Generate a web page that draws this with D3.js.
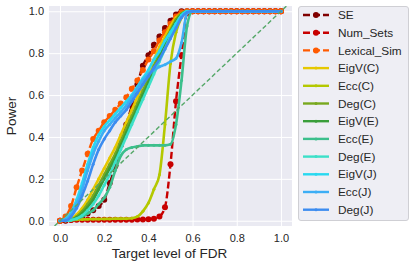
<!DOCTYPE html>
<html>
<head>
<meta charset="utf-8">
<script src="https://cdn.jsdelivr.net/npm/d3@7"></script>
<style>
  body { margin: 0; background: #fff; }
  svg { display: block; font-family: "Liberation Sans", Arial, sans-serif; }
</style>
</head>
<body>
<svg id="chart"></svg>
<script>
const width = 415;
const height = 268;
const margin = {top: 6, right: 123, bottom: 42, left: 49};

// target FDR levels (x)
const fdrLevels = [0, 0.025, 0.05, 0.075, 0.1, 0.125, 0.15, 0.175, 0.2, 0.225,
    0.25, 0.275, 0.3, 0.325, 0.35, 0.375, 0.4, 0.425, 0.45, 0.475,
    0.5, 0.525, 0.55, 0.575, 0.6, 0.625, 0.65, 0.675, 0.7, 0.725,
    0.75, 0.775, 0.8, 0.825, 0.85, 0.875, 0.9, 0.925, 0.95, 0.975, 1.0];

const names = ['SE', 'Num_Sets', 'Lexical_Sim', 'EigV(C)', 'Ecc(C)', 'Deg(C)',
    'EigV(E)', 'Ecc(E)', 'Deg(E)', 'EigV(J)', 'Ecc(J)', 'Deg(J)'];

const colors = ['#800000', '#c80000', '#ff5a00', '#e6c800', '#b4c800', '#78a81e',
    '#3a9e3a', '#3cbf8c', '#3ce0c8', '#28d8f0', '#3caef5', '#3c8cf0'];

const powerSE = [0, 0, 0.005, 0.01, 0.02, 0.035, 0.05, 0.07, 0.1, 0.18, 0.26, 0.36, 0.46, 0.55, 0.65, 0.74, 0.79, 0.84, 0.88, 0.92, 0.955, 0.985, 1, 1, 1,
    1, 1, 1, 1, 1, 1, 1, 1, 1, 1, 1, 1, 1, 1, 1, 1];
const powerNumSets = [0, 0.003, 0.004, 0.005, 0.005, 0.005, 0.005, 0.005, 0.005, 0.005, 0.005, 0.005, 0.005, 0.005, 0.006, 0.006, 0.007, 0.01, 0.02, 0.065, 0.27, 0.57, 0.79, 0.99, 1,
    1, 1, 1, 1, 1, 1, 1, 1, 1, 1, 1, 1, 1, 1, 1, 1];
const powerLexical = [0, 0.02, 0.07, 0.16, 0.24, 0.32, 0.39, 0.43, 0.47, 0.5, 0.53, 0.56, 0.59, 0.63, 0.67, 0.72, 0.77, 0.81, 0.86, 0.9, 0.94, 0.975, 0.995, 1, 1,
    1, 1, 1, 1, 1, 1, 1, 1, 1, 1, 1, 1, 1, 1, 1, 1];
const powerEigVC = [0, 0, 0.01, 0.03, 0.06, 0.1, 0.15, 0.2, 0.25, 0.3, 0.35, 0.41, 0.47, 0.53, 0.59, 0.65, 0.71, 0.77, 0.83, 0.88, 0.93, 0.97, 0.99, 1, 1,
    1, 1, 1, 1, 1, 1, 1, 1, 1, 1, 1, 1, 1, 1, 1, 1];
const powerEccC = [0, 0, 0.003, 0.005, 0.006, 0.007, 0.008, 0.008, 0.009, 0.009, 0.01, 0.01, 0.01, 0.012, 0.02, 0.045, 0.085, 0.15, 0.22, 0.46, 0.75, 0.9, 0.97, 1, 1,
    1, 1, 1, 1, 1, 1, 1, 1, 1, 1, 1, 1, 1, 1, 1, 1];
const powerDegC = [0, 0, 0.005, 0.02, 0.045, 0.08, 0.12, 0.17, 0.22, 0.27, 0.32, 0.38, 0.44, 0.5, 0.56, 0.62, 0.68, 0.74, 0.8, 0.86, 0.91, 0.96, 0.99, 1, 1,
    1, 1, 1, 1, 1, 1, 1, 1, 1, 1, 1, 1, 1, 1, 1, 1];
const powerEigVE = [0, 0, 0.005, 0.015, 0.035, 0.065, 0.1, 0.15, 0.2, 0.25, 0.3, 0.36, 0.42, 0.48, 0.54, 0.6, 0.66, 0.72, 0.78, 0.84, 0.9, 0.95, 0.985, 1, 1,
    1, 1, 1, 1, 1, 1, 1, 1, 1, 1, 1, 1, 1, 1, 1, 1];
const powerEccE = [0, 0, 0.005, 0.01, 0.02, 0.035, 0.05, 0.08, 0.11, 0.16, 0.24, 0.31, 0.34, 0.35, 0.355, 0.36, 0.36, 0.36, 0.36, 0.36, 0.365, 0.46, 0.67, 0.93, 1,
    1, 1, 1, 1, 1, 1, 1, 1, 1, 1, 1, 1, 1, 1, 1, 1];
const powerDegE = [0, 0, 0.003, 0.01, 0.025, 0.05, 0.08, 0.12, 0.17, 0.22, 0.28, 0.34, 0.4, 0.46, 0.52, 0.58, 0.64, 0.7, 0.76, 0.82, 0.88, 0.94, 0.98, 1, 1,
    1, 1, 1, 1, 1, 1, 1, 1, 1, 1, 1, 1, 1, 1, 1, 1];
const powerEigVJ = [0, 0.01, 0.04, 0.1, 0.18, 0.27, 0.35, 0.41, 0.45, 0.48, 0.51, 0.54, 0.57, 0.6, 0.64, 0.68, 0.72, 0.77, 0.81, 0.86, 0.9, 0.94, 0.98, 1, 1,
    1, 1, 1, 1, 1, 1, 1, 1, 1, 1, 1, 1, 1, 1, 1, 1];
const powerEccJ = [0, 0.005, 0.03, 0.08, 0.15, 0.24, 0.32, 0.38, 0.43, 0.46, 0.49, 0.52, 0.55, 0.59, 0.63, 0.67, 0.7, 0.72, 0.735, 0.745, 0.76, 0.775, 0.85, 0.99, 1,
    1, 1, 1, 1, 1, 1, 1, 1, 1, 1, 1, 1, 1, 1, 1, 1];
const powerDegJ = [0, 0, 0.02, 0.06, 0.12, 0.19, 0.27, 0.34, 0.39, 0.43, 0.47, 0.5, 0.53, 0.57, 0.61, 0.65, 0.69, 0.73, 0.77, 0.82, 0.87, 0.92, 0.97, 0.995, 1,
    1, 1, 1, 1, 1, 1, 1, 1, 1, 1, 1, 1, 1, 1, 1, 1];

const diagonal = [-0.025, 1.025];
const ticks = [0, 0.2, 0.4, 0.6, 0.8, 1.0];

const allPower = [powerSE, powerNumSets, powerLexical, powerEigVC, powerEccC, powerDegC,
    powerEigVE, powerEccE, powerDegE, powerEigVJ, powerEccJ, powerDegJ];

const series = names.map((name, i) => ({
    name: name,
    color: colors[i],
    dashed: i < 3,
    values: fdrLevels.map((f, j) => [f, allPower[i][j]])
}));

const svg = d3.select('#chart')
    .attr('width', width)
    .attr('height', height);

const plotW = width - margin.left - margin.right;
const plotH = height - margin.top - margin.bottom;

const x = d3.scaleLinear().domain([-0.05, 1.05]).range([margin.left, margin.left + plotW]);
const y = d3.scaleLinear().domain([-0.025, 1.025]).range([margin.top + plotH, margin.top]);

svg.append('rect')
    .attr('x', margin.left).attr('y', margin.top)
    .attr('width', plotW).attr('height', plotH)
    .attr('fill', '#eaeaf2');

svg.append('clipPath').attr('id', 'clip')
    .append('rect')
    .attr('x', margin.left).attr('y', margin.top)
    .attr('width', plotW).attr('height', plotH);

// grid
const xAxis = svg.append('g')
    .attr('transform', `translate(0, ${margin.top + plotH})`)
    .call(d3.axisBottom(x).tickValues(ticks).tickFormat(d3.format('.1f')).tickSize(-plotH).tickPadding(8));
const yAxis = svg.append('g')
    .attr('transform', `translate(${margin.left}, 0)`)
    .call(d3.axisLeft(y).tickValues(ticks).tickFormat(d3.format('.1f')).tickSize(-plotW).tickPadding(5));

[xAxis, yAxis].forEach(a => {
    a.select('.domain').remove();
    a.selectAll('.tick line').attr('stroke', '#fff').attr('stroke-width', 1);
    a.selectAll('.tick text')
        .attr('fill', '#262626')
        .style('font-size', '11px')
        .style('font-family', '"Liberation Sans", Arial, sans-serif');
});

const line = d3.line()
    .x(d => x(d[0]))
    .y(d => y(d[1]))
    .curve(d3.curveMonotoneX);

const plot = svg.append('g').attr('clip-path', 'url(#clip)');

series.forEach(s => {
    const g = plot.append('g');
    g.append('path')
        .datum(s.values)
        .attr('fill', 'none')
        .attr('stroke', s.color)
        .attr('stroke-width', s.dashed ? 2.4 : 2.6)
        .attr('stroke-dasharray', s.dashed ? '7,3' : null)
        .attr('d', line);
    g.selectAll('circle')
        .data(s.values)
        .enter()
        .append('circle')
        .attr('cx', d => x(d[0]))
        .attr('cy', d => y(d[1]))
        .attr('r', s.dashed ? 3 : 1.5)
        .attr('fill', s.color);
});

plot.append('path')
    .datum(diagonal.map(d => [d, d]))
    .attr('fill', 'none')
    .attr('stroke', '#55a868')
    .attr('stroke-width', 1.4)
    .attr('stroke-dasharray', '4.5,2.5')
    .attr('d', d3.line().x(d => x(d[0])).y(d => y(d[1])));

// axis labels
svg.append('text')
    .attr('x', margin.left + plotW / 2 - 1)
    .attr('y', 258)
    .attr('text-anchor', 'middle')
    .attr('fill', '#262626')
    .style('font-size', '13.5px')
    .text('Target level of FDR');

svg.append('text')
    .attr('transform', `translate(16, ${margin.top + plotH / 2}) rotate(-90)`)
    .attr('text-anchor', 'middle')
    .attr('fill', '#262626')
    .style('font-size', '13.5px')
    .text('Power');

// legend
const legend = svg.append('g');
legend.append('rect')
    .attr('x', 298.5).attr('y', 6.5)
    .attr('width', 110).attr('height', 214)
    .attr('rx', 2.5)
    .attr('fill', '#eeeef4')
    .attr('stroke', '#cfcfd4')
    .attr('stroke-width', 1);

const rowH = 17.7;
series.forEach((s, i) => {
    const yy = 15 + i * rowH;
    const item = legend.append('g');
    item.append('line')
        .attr('x1', 303).attr('x2', 329)
        .attr('y1', yy).attr('y2', yy)
        .attr('stroke', s.color)
        .attr('stroke-width', 2.4)
        .attr('stroke-dasharray', s.dashed ? '7,3' : null);
    item.append('circle')
        .attr('cx', 316).attr('cy', yy)
        .attr('r', s.dashed ? 3 : 1.5)
        .attr('fill', s.color);
    item.append('text')
        .attr('x', 338).attr('y', yy)
        .attr('dy', '0.35em')
        .attr('fill', '#262626')
        .style('font-size', '11.8px')
        .text(s.name);
});
</script>
</body>
</html>
